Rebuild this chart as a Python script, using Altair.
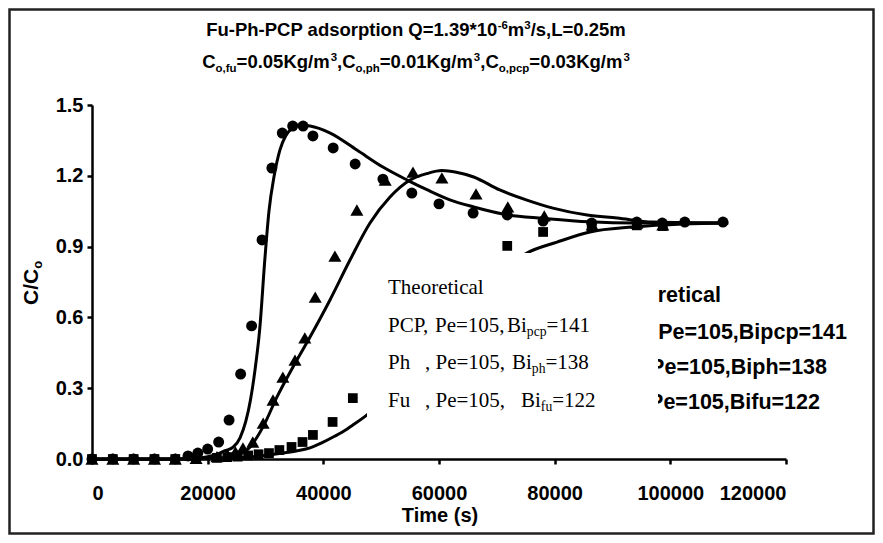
import altair as alt
import pandas as pd

# ---------------- data ----------------
pcp_t = [0, 3600, 7200, 10800, 14400, 16600, 18300, 20000, 21900, 23700, 25700, 27600, 29400,
         31100, 32900, 34700, 36500, 38200, 41700, 45500, 50300, 55300, 60000, 65900, 71800,
         78000, 86400, 94200, 98600, 102500, 109100]
pcp_c = [0, 0, 0, 0, 0, 0.013, 0.025, 0.042, 0.072, 0.165, 0.36, 0.564, 0.928,
         1.233, 1.381, 1.411, 1.411, 1.369, 1.318, 1.25, 1.186, 1.127, 1.081, 1.042, 1.034,
         1.008, 1.0, 1.004, 1.0, 1.004, 1.004]

ph_t = [0, 3600, 7200, 10800, 14400, 18000, 21600, 23400, 24800, 26100, 27800, 29600, 31300,
        33000, 35100, 36800, 38600, 42000, 45800, 50700, 55500, 60500, 66400, 71900, 78200,
        86500, 94200, 98700]
ph_c = [0, 0, 0, 0, 0, 0.003, 0.01, 0.02, 0.03, 0.047, 0.072, 0.152, 0.25,
        0.347, 0.419, 0.513, 0.686, 0.86, 1.055, 1.182, 1.216, 1.191, 1.123, 1.068, 1.03,
        0.992, 1.0, 0.992]

fu_t = [0, 3600, 7200, 10800, 14400, 18000, 21600, 23400, 25200, 27000, 28800, 30600, 32400,
        34500, 36400, 38200, 41600, 45100, 71800, 78000, 86400, 94200, 98700]
fu_c = [0, 0, 0, 0, 0, 0.003, 0.005, 0.008, 0.01, 0.015, 0.02, 0.025, 0.038,
        0.051, 0.072, 0.102, 0.157, 0.258, 0.903, 0.962, 0.983, 0.99, 0.987]

# theoretical curves
pcp_th_t = [0, 14400, 18000, 20000, 21600, 23000, 24400, 25600, 26600, 27400, 28200, 29000, 29900,
            30600, 31500, 32500, 33500, 34500, 35600, 37700, 41200, 45800, 50300, 54500, 58000,
            62000, 66000, 72000, 78000, 86000, 94000, 110000]
pcp_th_c = [0, 0, 0.004, 0.01, 0.02, 0.035, 0.05, 0.09, 0.16, 0.25, 0.38, 0.55, 0.85,
            1.05, 1.2, 1.31, 1.37, 1.40, 1.415, 1.411, 1.381, 1.309, 1.237, 1.182, 1.14,
            1.097, 1.068, 1.034, 1.02, 1.005, 1.0, 1.0]

ph_th_t = [0, 14400, 20000, 23000, 25000, 27300, 29570, 31990, 34750, 37700, 41150, 44610, 48070,
           51530, 55000, 58000, 60500, 63000, 66000, 70500, 75200, 79700, 85600, 90800, 97000, 110000]
ph_th_c = [0, 0, 0.002, 0.005, 0.015, 0.05, 0.136, 0.263, 0.39, 0.517, 0.674, 0.843, 1.0,
           1.11, 1.182, 1.21, 1.222, 1.215, 1.195, 1.14, 1.097, 1.063, 1.034, 1.021, 1.004, 1.0]

fu_th_t = [0, 14400, 20000, 24000, 27300, 30000, 33000, 35500, 37700, 39700, 41700, 43500, 45100,
           47500, 50000, 55000, 60000, 65000, 70000, 75200, 80400, 86100, 93500, 102200, 110000]
fu_th_c = [0, 0, 0.002, 0.005, 0.008, 0.015, 0.025, 0.035, 0.047, 0.068, 0.093, 0.118, 0.144,
           0.186, 0.24, 0.37, 0.52, 0.66, 0.78, 0.873, 0.919, 0.962, 0.983, 0.996, 1.0]

x_ticks = [0, 20000, 40000, 60000, 80000, 100000, 120000]
y_ticks = [0.0, 0.3, 0.6, 0.9, 1.2, 1.5]

title_line1 = [("Fu-Ph-PCP adsorption Q=1.39*10", "n"), ("-6", "sup"), ("m", "n"), ("3", "sup"),
               ("/s,L=0.25m", "n")]
title_line2 = [("C", "n"), ("o,fu", "sub"), ("=0.05Kg/m", "n"), ("3", "sup"), (",C", "n"),
               ("o,ph", "sub"), ("=0.01Kg/m", "n"), ("3", "sup"), (",C", "n"), ("o,pcp", "sub"),
               ("=0.03Kg/m", "n"), ("3", "sup")]
back_legend = ["Theoretical", "PCP, Pe=105,Bipcp=141", "Ph, Pe=105,Biph=138", "Fu, Pe=105,Bifu=122"]
# (text, kind, optional page-x where this piece starts)
front_legend = [
    [("Theoretical", "n", 388)],
    [("PCP,", "n", 388), ("Pe=105,", "n", 435), ("Bi", "n", 507), ("pcp", "sub", None), ("=141", "n", None)],
    [("Ph", "n", 388), (", Pe=105,", "n", 425), ("Bi", "n", 512), ("ph", "sub", None), ("=138", "n", None)],
    [("Fu", "n", 388), (", Pe=105,", "n", 425), ("Bi", "n", 521), ("fu", "sub", None), ("=122", "n", None)],
]

# ---------------- layout ----------------
W, H = 694, 354
PAD_L, PAD_T, PAD_R, PAD_B = 84, 97, 89, 76
SANS = "Liberation Sans, Arial, sans-serif"
SERIF = "Liberation Serif, Times New Roman, serif"

ARIAL_B = {' ': 278, '-': 333, '.': 278, ',': 278, '/': 278, '=': 584, '*': 389, '(': 333, ')': 333,
           'A': 722, 'B': 722, 'C': 722, 'F': 611, 'K': 778, 'L': 611, 'P': 667, 'Q': 778, 'T': 611,
           'a': 556, 'c': 556, 'd': 611, 'e': 556, 'f': 333, 'g': 611, 'h': 611, 'i': 278, 'l': 278,
           'm': 889, 'n': 611, 'o': 611, 'p': 611, 'r': 389, 's': 556, 't': 333, 'u': 611,
           'digit': 556}
TIMES = {' ': 250, ',': 250, '.': 250, '=': 564, 'B': 667, 'C': 667, 'F': 556, 'P': 556, 'T': 611,
         'a': 444, 'c': 444, 'e': 444, 'f': 333, 'h': 500, 'i': 278, 'l': 278, 'o': 500, 'p': 500,
         'r': 333, 't': 278, 'u': 500, 'digit': 500}


def text_w(s, table, fs):
    return sum(table['digit'] if ch.isdigit() else table.get(ch, 500) for ch in s) * fs / 1000.0


def rich(segments, table, fs, x0, y0, center=False):
    rows = []
    total = sum(text_w(t, table, fs * (0.62 if k != "n" else 1)) for t, k in segments)
    x = x0 - total / 2 if center else x0
    for t, k in segments:
        size = fs if k == "n" else fs * 0.62
        dy = 0 if k == "n" else (-0.38 * fs if k == "sup" else 0.2 * fs)
        rows.append({"x": x, "y": y0 + dy, "text": t, "size": size})
        x += text_w(t, table, size)
    return rows


# title rows (plot-origin pixel coordinates)
TFS = 18.5
TCX = 416
title_rows = rich(title_line1, ARIAL_B, TFS, TCX - 92, 36 - 105, center=True) + \
             rich(title_line2, ARIAL_B, TFS, TCX - 92, 68 - 105, center=True)

# front legend rows (Times)
LFS = 21
front_rows = []
base_y = [294 - 105, 332 - 105, 369 - 105, 407 - 105]
for segs, by in zip(front_legend, base_y):
    x = 0
    for t, k, px in segs:
        if px is not None:
            x = px - 92
        size = LFS if k == "n" else LFS * 0.65
        dy = 0 if k == "n" else 0.17 * LFS
        front_rows.append({"x": x, "y": by + dy, "text": t, "size": size})
        x += text_w(t, TIMES, size)

back_rows = [{"x": ex - 92, "y": by - 105, "text": t, "size": 21.5}
             for t, ex, by in zip(back_legend, [721, 847, 827, 820], [302, 339, 374, 409])]

# axis title rows
xtitle_rows = [{"x": 440 - 92, "y": 522 - 105, "text": "Time (s)", "size": 20}]
YFS = 21
ystart = 305 - 105
ywm = text_w("C/C", ARIAL_B, YFS)
ytitle_rows = [{"x": 38 - 92, "y": ystart, "text": "C/C", "size": YFS},
               {"x": 38 - 92 + 0.2 * YFS, "y": ystart - ywm, "text": "o", "size": YFS * 0.62}]

# ---------------- chart ----------------
xs = alt.Scale(domain=[0, 120000], nice=False)
ys = alt.Scale(domain=[0, 1.5], nice=False)

rows = []
for name, t, c in [("PCP", pcp_th_t, pcp_th_c), ("Ph", ph_th_t, ph_th_c), ("Fu", fu_th_t, fu_th_c)]:
    rows += [{"series": name, "t": a, "c": b} for a, b in zip(t, c)]
curves = pd.DataFrame(rows)

xaxis = alt.Axis(values=x_ticks, format="d", title=None, labelPadding=19)
yaxis = alt.Axis(values=y_ticks, format=".1f", title=None, labelPadding=4)

lines = alt.Chart(curves).mark_line(color="black", strokeWidth=3, interpolate="monotone").encode(
    x=alt.X("t:Q", scale=xs, axis=xaxis),
    y=alt.Y("c:Q", scale=ys, axis=yaxis),
    detail="series:N",
)


def point_layer(t, c, shape, size):
    return alt.Chart(pd.DataFrame({"t": t, "c": c})).mark_point(
        filled=True, color="black", opacity=1, shape=shape, size=size
    ).encode(x=alt.X("t:Q", scale=xs), y=alt.Y("c:Q", scale=ys))


def text_layer(rows_, font, weight="bold", align="left", angle=0):
    return alt.Chart(pd.DataFrame(rows_)).mark_text(
        font=font, fontWeight=weight, align=align, baseline="alphabetic", color="black", angle=angle
    ).encode(
        x=alt.X("x:Q", scale=None, axis=None),
        y=alt.Y("y:Q", scale=None, axis=None),
        size=alt.Size("size:Q", scale=None, legend=None),
        text="text:N",
    )


one = pd.DataFrame({"k": [0]})
white_box = alt.Chart(one).mark_rect(fill="white", stroke=None).encode(
    x=alt.value(367 - 92), x2=alt.value(658 - 92), y=alt.value(253 - 105), y2=alt.value(425 - 105)
)
frame = alt.Chart(one).mark_rect(fill=None, stroke="#222222", strokeWidth=2.5).encode(
    x=alt.value(-PAD_L + 1.5), x2=alt.value(W + PAD_R - 1.5),
    y=alt.value(-PAD_T + 1.5), y2=alt.value(H + PAD_B - 1.5)
)

chart = alt.layer(
    lines,
    point_layer(pcp_t, pcp_c, "circle", 120),
    point_layer(ph_t, ph_c, "triangle-up", 170),
    point_layer(fu_t, fu_c, "square", 95),
    text_layer(back_rows, SANS, align="right"),
    white_box,
    text_layer(front_rows, SERIF, weight="normal"),
    text_layer(title_rows, SANS),
    text_layer(xtitle_rows, SANS, align="center"),
    text_layer(ytitle_rows, SANS, angle=270),
    frame,
).properties(
    width=W, height=H,
    autosize=alt.AutoSizeParams(type="none"),
    padding={"left": PAD_L, "top": PAD_T, "right": PAD_R, "bottom": PAD_B},
    background="white",
).configure_view(stroke=None).configure_axis(
    grid=False, domainColor="black", domainWidth=2.5, tickColor="black", tickWidth=2.5,
    tickSize=5, labelFont=SANS, labelFontWeight="bold", labelFontSize=20, labelColor="black",
)

chart.save("out.html", embed_options={"renderer": "svg", "actions": False})
